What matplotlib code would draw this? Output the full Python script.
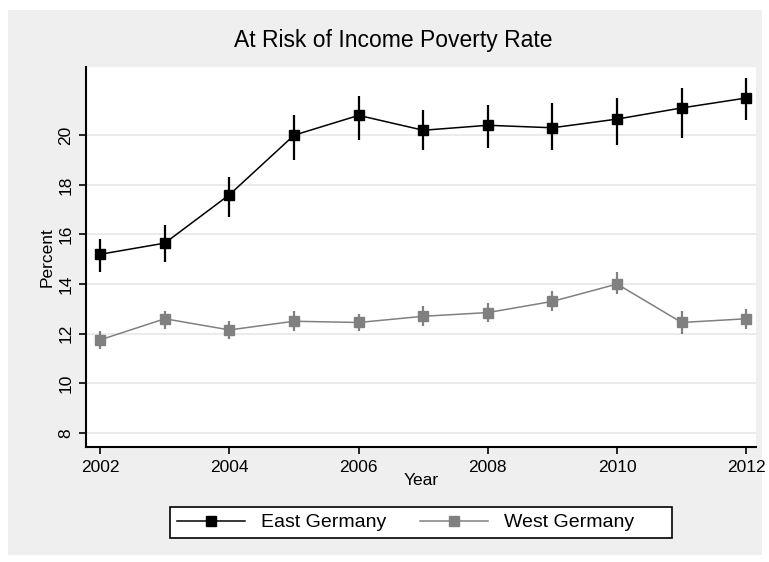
import matplotlib
matplotlib.use("Agg")
import matplotlib.pyplot as plt
from matplotlib.patches import Rectangle

plt.rcParams['font.family'] = ['Liberation Sans', 'DejaVu Sans']

years = [2002, 2003, 2004, 2005, 2006, 2007, 2008, 2009, 2010, 2011, 2012]
east = [15.2, 15.65, 17.6, 20.0, 20.8, 20.2, 20.4, 20.3, 20.65, 21.1, 21.5]
east_lo = [14.5, 14.9, 16.7, 19.0, 19.8, 19.4, 19.5, 19.4, 19.6, 19.9, 20.6]
east_hi = [15.8, 16.4, 18.3, 20.8, 21.6, 21.0, 21.2, 21.3, 21.5, 21.9, 22.3]
west = [11.75, 12.6, 12.15, 12.5, 12.45, 12.7, 12.85, 13.3, 14.0, 12.45, 12.6]
west_lo = [11.4, 12.2, 11.8, 12.1, 12.1, 12.3, 12.45, 12.9, 13.6, 12.0, 12.2]
west_hi = [12.1, 12.9, 12.5, 12.9, 12.8, 13.1, 13.25, 13.7, 14.5, 12.9, 13.0]
xticks = [2002, 2004, 2006, 2008, 2010, 2012]
yticks = [8, 10, 12, 14, 16, 18, 20]

W, H = 769, 562
fig = plt.figure(figsize=(W / 100, H / 100), dpi=100, facecolor='white')
fig.patches.append(Rectangle((8 / W, (H - 555) / H), (762 - 8) / W, (555 - 10) / H,
                             transform=fig.transFigure, facecolor='#efefef',
                             edgecolor='none', zorder=0))
# legend frame
fig.patches.append(Rectangle((170 / W, (H - 538) / H), (672 - 170) / W, (538 - 507) / H,
                             transform=fig.transFigure, facecolor='white',
                             edgecolor='black', lw=1.2, zorder=0.5))

ax = fig.add_axes([86 / W, (H - 447) / H, (756 - 86) / W, (447 - 67) / H])
ax.set_facecolor('white')
ax.set_zorder(1)

for y in yticks:
    ax.axhline(y, color='#e8e8e8', lw=1.2, zorder=1)

ax.vlines(years, east_lo, east_hi, color='black', lw=1.6, zorder=3)
ax.plot(years, east, color='black', lw=1.1, marker='s', ms=7.5, zorder=4,
        label='East Germany')
ax.vlines(years, west_lo, west_hi, color='#808080', lw=1.6, zorder=3)
ax.plot(years, west, color='#808080', lw=1.1, marker='s', ms=7.5, zorder=4,
        label='West Germany')

ax.set_xlim(2001.78, 2012.15)
ax.set_ylim(7.43, 22.75)
ax.set_xticks(xticks)
ax.set_yticks(yticks)
ax.tick_params(axis='both', labelsize=12.5, length=5, width=1.2, color='black',
               pad=4)
for lab in ax.get_yticklabels():
    lab.set_rotation(90)
    lab.set_va('center')

for s in ['top', 'right']:
    ax.spines[s].set_visible(False)
for s in ['left', 'bottom']:
    ax.spines[s].set_linewidth(1.5)

fig.text(393 / W, (H - 40) / H, 'At Risk of Income Poverty Rate', fontsize=16.5,
         ha='center', va='center')
ax.set_xlabel('Year', fontsize=12.5, labelpad=-1)
ax.set_ylabel('Percent', fontsize=12.5, labelpad=3)

leg = ax.legend(loc='center left', bbox_to_anchor=(177 / W, (H - 522.5) / H),
                bbox_transform=fig.transFigure, ncol=2, frameon=False,
                fontsize=14, handlelength=3.5, handletextpad=0.8,
                columnspacing=1.75, borderpad=0, borderaxespad=0)

fig.savefig('out.png', dpi=100, facecolor='white')
